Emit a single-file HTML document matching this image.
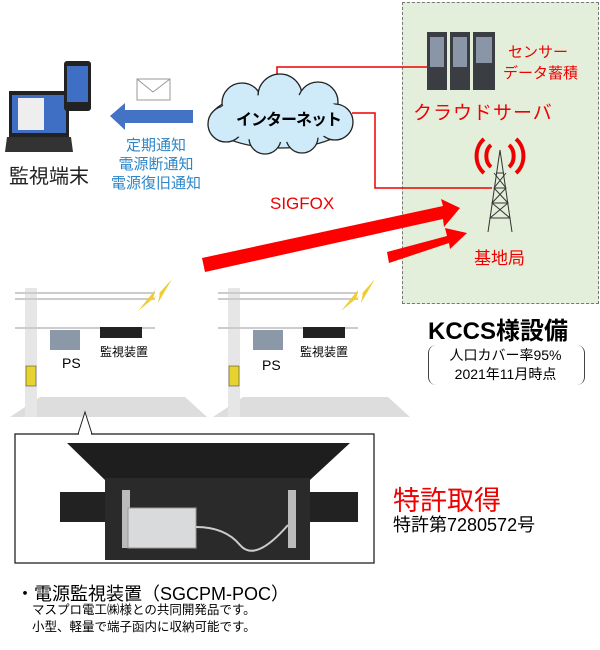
<!DOCTYPE html>
<html><head><meta charset="utf-8"><style>
body{margin:0;width:600px;height:650px;background:#fff;position:relative;overflow:hidden;font-family:"Liberation Sans","Noto Sans CJK JP",sans-serif}
.a{position:absolute;white-space:nowrap}
</style></head><body>
<div class="a" style="left:402px;top:2px;width:195px;height:300px;background:#e3efda;border:1px dashed #777"></div>
<svg class="a" style="left:0;top:0" width="600" height="650">
<!-- servers -->
<g fill="#3a3d42"><rect x="427" y="32" width="20" height="58"/><rect x="450" y="32" width="20" height="58"/><rect x="473" y="32" width="22" height="58"/></g>
<g fill="#8a96a8"><rect x="430" y="37" width="14" height="30"/><rect x="453" y="37" width="14" height="30"/><rect x="476" y="37" width="16" height="26"/></g>
<!-- red lines -->
<polyline points="277,80 277,67 428,67" fill="none" stroke="#e00" stroke-width="1.5"/>
<polyline points="352,113 375,113 375,188 492,188" fill="none" stroke="#e00" stroke-width="1.5"/>
<!-- cloud -->
<g fill="#cfeaf8" stroke="#222" stroke-width="1.3">
<ellipse cx="280" cy="120" rx="70" ry="28"/>
<circle cx="242" cy="103" r="20"/><circle cx="280" cy="96" r="22"/><circle cx="318" cy="102" r="20"/>
<circle cx="335" cy="122" r="18"/><circle cx="226" cy="124" r="18"/><circle cx="265" cy="138" r="16"/><circle cx="302" cy="137" r="16"/>
</g>
<ellipse cx="280" cy="118" rx="66" ry="24" fill="#cfeaf8"/>
<circle cx="280" cy="104" r="20" fill="#cfeaf8"/>
<!-- envelope -->
<rect x="137" y="79" width="33" height="21" fill="#fff" stroke="#999"/><polyline points="137,79 153,92 170,79" fill="none" stroke="#999"/>
<!-- blue arrow -->
<polygon points="193,110 125,110 125,103 110,116 125,130 125,123 193,123" fill="#4472c4"/>
<!-- laptop -->
<rect x="9" y="91" width="60" height="46" fill="#222"/><rect x="12" y="95" width="54" height="38" fill="#3f6fc4"/>
<rect x="18" y="98" width="26" height="32" fill="#eee"/>
<polygon points="7,137 71,137 73,152 5,152" fill="#333"/>
<rect x="64" y="61" width="27" height="50" rx="3" fill="#222"/><rect x="67" y="66" width="21" height="36" fill="#3f6fc4"/>
<!-- tower -->
<g stroke="#333" fill="none" stroke-width="1"><line x1="500" y1="150" x2="488" y2="232"/><line x1="500" y1="150" x2="512" y2="232"/>
<path d="M490 218L510 218M492 203L508 203M494 188L506 188M496 173L504 173M490 218L508 203L494 188L506 173M510 218L492 203L506 188L494 173"/></g>
<g stroke="#e00" stroke-width="4" fill="none"><path d="M491 145a10 13 0 0 0 0 22"/><path d="M484 139a18 21 0 0 0 0 34"/><path d="M509 145a10 13 0 0 1 0 22"/><path d="M516 139a18 21 0 0 1 0 34"/></g>
<!-- red arrows -->
<polygon points="202,258 443,206 441,199 460,208 444,227 443,219 205,272" fill="#f00"/>
<polygon points="387,252 447,236 445,228 467,233 450,249 449,243 389,263" fill="#f00"/>
<!-- pole scenes -->
<g id="s">
<polygon points="10,417 207,417 185,397 40,397" fill="#ddd"/>
<rect x="25" y="288" width="12" height="129" fill="#e6e6e6"/><rect x="26" y="366" width="10" height="20" fill="#e8d230" stroke="#333" stroke-width=".5"/>
<line x1="15" y1="293" x2="155" y2="293" stroke="#ccc" stroke-width="2"/><line x1="15" y1="299" x2="155" y2="299" stroke="#ccc" stroke-width="2"/><line x1="15" y1="328" x2="155" y2="328" stroke="#ccc" stroke-width="2"/>
<rect x="50" y="330" width="30" height="20" fill="#8b98a8"/><rect x="100" y="327" width="42" height="11" fill="#222"/>
<polygon points="138,311 155,290 153,300 172,279 158,303 160,293" fill="#ec3"/>
</g>
<use href="#s" x="203" y="0"/>
<!-- callout & inset -->
<polygon points="78,434 85,412 92,434" fill="#fff" stroke="#222"/>
<rect x="15" y="434" width="359" height="129" fill="#fff" stroke="#222" stroke-width="1.3"/>
<line x1="79" y1="434" x2="91" y2="434" stroke="#fff" stroke-width="2"/>
<polygon points="67,443 350,443 310,480 105,480" fill="#1e1e1e"/>
<rect x="60" y="492" width="298" height="30" fill="#222"/>
<rect x="105" y="478" width="205" height="82" fill="#2a2a2a"/>
<rect x="122" y="490" width="8" height="58" fill="#bbb"/><rect x="288" y="490" width="8" height="58" fill="#bbb"/>
<rect x="128" y="508" width="68" height="40" fill="#d8dadc" stroke="#999"/>
<path d="M196 527 Q225 527 240 545 T288 525" stroke="#ccc" stroke-width="2" fill="none"/>
</svg>
<div class="a" style="left:508px;top:41px;color:#e00;font-size:15px">センサー</div>
<div class="a" style="left:503px;top:62px;color:#e00;font-size:15px">データ蓄積</div>
<div class="a" style="left:413px;top:98px;color:#e00;font-size:19px;letter-spacing:1px">クラウドサーバ</div>
<div class="a" style="left:474px;top:244px;color:#e00;font-size:17px">基地局</div>
<div class="a" style="left:236px;top:106px;font-size:16px;font-weight:bold;letter-spacing:-1px">インターネット</div>
<div class="a" style="left:96px;top:136px;width:120px;text-align:center;color:#2e86c8;font-size:15px;line-height:19px">定期通知<br>電源断通知<br>電源復旧通知</div>
<div class="a" style="left:9px;top:160px;font-size:20px;color:#222">監視端末</div>
<div class="a" style="left:270px;top:194px;color:#e00;font-size:17px">SIGFOX</div>
<div class="a" style="left:62px;top:355px;font-size:14px">PS</div>
<div class="a" style="left:100px;top:343px;font-size:12px">監視装置</div>
<div class="a" style="left:262px;top:357px;font-size:14px">PS</div>
<div class="a" style="left:300px;top:343px;font-size:12px">監視装置</div>
<div class="a" style="left:428px;top:311px;font-size:24px;font-weight:bold">KCCS様設備</div>
<div class="a" style="left:428px;top:345px;width:155px;height:40px;border-left:1px solid #444;border-right:1px solid #444;border-radius:8px"></div>
<div class="a" style="left:428px;top:346px;width:155px;text-align:center;font-size:14px;line-height:19px">人口カバー率95%<br>2021年11月時点</div>
<div class="a" style="left:393px;top:479px;color:#e00;font-size:27px">特許取得</div>
<div class="a" style="left:393px;top:511px;font-size:18px">特許第7280572号</div>
<div class="a" style="left:16px;top:580px;font-size:18px">・電源監視装置（SGCPM-POC）</div>
<div class="a" style="left:32px;top:602px;font-size:12.5px;line-height:17px">マスプロ電工㈱様との共同開発品です。<br>小型、軽量で端子函内に収納可能です。</div>
</body></html>
